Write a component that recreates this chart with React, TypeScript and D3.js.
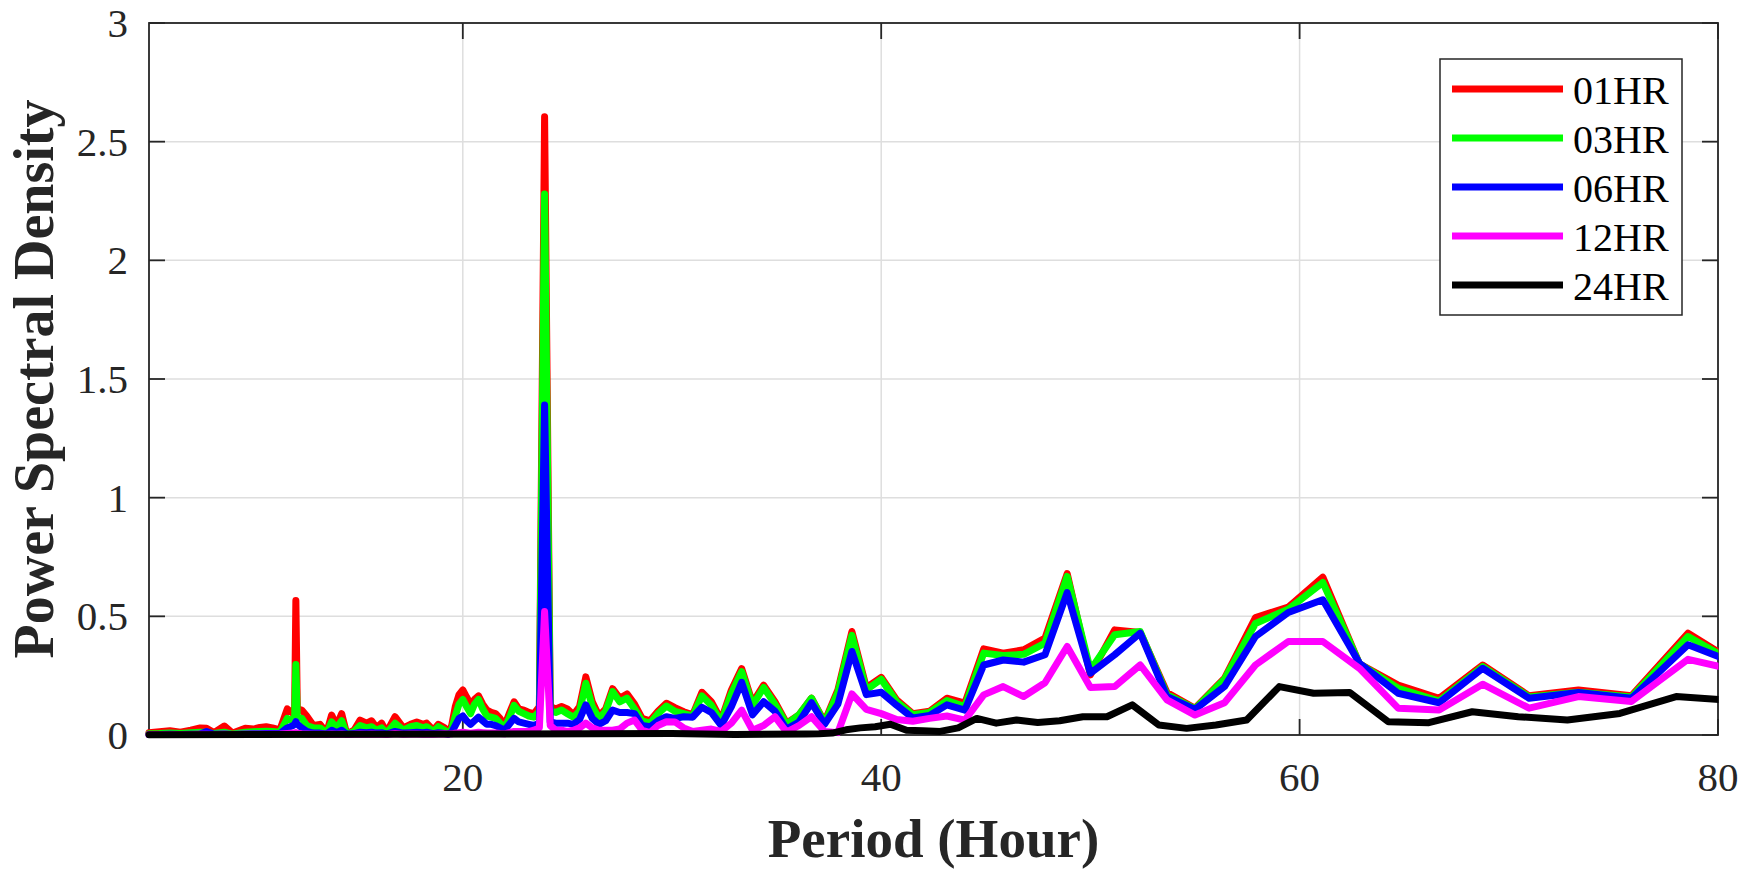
import React from 'react';
import * as d3 from 'd3';

// Period (hour) grid shared by the 01HR, 03HR, 06HR and 12HR spectra
const periods = [
  5.0, 5.5, 6.0, 6.5, 7.0, 7.45, 7.75, 8.1, 8.6, 9.0,
  9.6, 10.0, 10.3, 10.6, 10.9, 11.26, 11.61, 11.89, 11.96, 12.02,
  12.09, 12.3, 12.54, 12.86, 13.17, 13.49, 13.73, 13.97, 14.21, 14.45,
  14.8, 15.09, 15.4, 15.64, 15.88, 16.12, 16.36, 16.76, 17.16, 17.5,
  17.8, 18.1, 18.27, 18.59, 18.83,
  19.13, 19.30, 19.47, 19.64, 19.82, 20.00, 20.18, 20.37, 20.56, 20.75,
  20.95, 21.15, 21.36, 21.57, 21.78, 22.00, 22.22, 22.45, 22.68, 22.92,
  23.16, 23.40, 23.66, 23.91, 24.18, 24.44, 24.72, 25.00, 25.29, 25.58,
  25.88, 26.19, 26.51, 26.83, 27.16, 27.50, 27.85, 28.21, 28.57, 28.95,
  29.33, 29.73, 30.14, 30.56, 30.99, 31.43, 31.88, 32.35, 32.84, 33.33,
  33.85, 34.38, 34.92, 35.48, 36.07, 36.67, 37.29, 37.93, 38.60, 39.29,
  40.00, 40.74, 41.51, 42.31, 43.14, 44.00, 44.90, 45.83, 46.81, 47.83,
  48.89, 50.00, 51.16, 52.38, 53.66, 55.00, 56.41, 57.89, 59.46, 61.11,
  62.86, 64.71, 66.67, 68.75, 70.97, 73.33, 75.86, 78.57, 81.48,
];

const psd01 = [
  .010, .014, .018, .012, .020, .030, .028, .010, .038, .008,
  .028, .025, .032, .035, .030, .022, .110, .090, .100, .567,
  .110, .105, .080, .040, .045, .010, .084, .040, .090, .005,
  .020, .063, .050, .060, .030, .050, .012, .077, .030, .045,
  .055, .045, .050, .020, .045,
  .030, .008, .040, .120, .170, .190, .160, .130, .150, .165,
  .130, .105, .095, .090, .070, .040, .090, .140, .110, .105,
  .095, .090, .120, 2.605, .120, .110, .120, .110, .085, .120,
  .245, .140, .080, .110, .195, .155, .173, .130, .070, .060,
  .100, .134, .115, .098, .085, .180, .140, .063, .190, .280,
  .135, .210, .140, .050, .085, .155, .055, .190, .436, .200,
  .243, .148, .090, .100, .155, .134, .363, .345, .359, .408,
  .680, .253, .443, .432, .179, .113, .239, .495, .539, .665,
  .300, .210, .155, .295, .165, .190, .165, .429, .270,
];

const psd03 = [
  .005, .006, .008, .006, .010, .012, .012, .006, .012, .004,
  .012, .014, .015, .016, .015, .012, .070, .060, .070, .297,
  .075, .070, .040, .030, .030, .008, .055, .030, .060, .004,
  .015, .040, .030, .035, .020, .030, .008, .050, .020, .035,
  .040, .030, .035, .015, .035,
  .020, .005, .025, .080, .130, .150, .120, .090, .130, .150,
  .110, .080, .075, .070, .050, .030, .070, .125, .100, .090,
  .080, .075, .100, 2.280, .100, .095, .105, .090, .075, .100,
  .218, .120, .070, .100, .183, .140, .155, .110, .060, .050,
  .090, .122, .100, .090, .080, .165, .125, .055, .175, .267,
  .125, .200, .130, .045, .085, .155, .050, .180, .420, .190,
  .235, .140, .085, .095, .145, .120, .345, .335, .340, .387,
  .668, .274, .422, .436, .170, .110, .235, .470, .530, .643,
  .300, .197, .143, .288, .160, .180, .160, .415, .270,
];

const psd06 = [
  .002, .002, .003, .002, .003, .004, .015, .003, .004, .002,
  .004, .005, .005, .006, .006, .006, .030, .040, .045, .056,
  .045, .030, .015, .008, .008, .004, .020, .010, .020, .003,
  .006, .012, .010, .012, .008, .010, .004, .015, .008, .010,
  .012, .010, .012, .006, .010,
  .006, .003, .012, .040, .070, .080, .060, .045, .060, .075,
  .060, .045, .045, .040, .030, .020, .045, .070, .055, .050,
  .045, .040, .050, 1.390, .055, .050, .050, .050, .045, .065,
  .127, .070, .045, .060, .105, .095, .095, .090, .040, .035,
  .060, .077, .070, .077, .075, .117, .095, .040, .120, .222,
  .085, .140, .100, .025, .055, .136, .045, .130, .352, .170,
  .180, .125, .072, .082, .127, .105, .295, .316, .307, .338,
  .600, .260, .338, .429, .162, .108, .204, .415, .516, .570,
  .302, .176, .136, .281, .155, .179, .155, .380, .280,
];

const psd12 = [
  .002, .002, .002, .002, .002, .003, .003, .002, .003, .002,
  .003, .003, .003, .003, .003, .004, .006, .008, .008, .010,
  .008, .005, .004, .003, .003, .003, .004, .003, .004, .002,
  .003, .004, .003, .004, .003, .003, .002, .006, .003, .004,
  .004, .003, .004, .003, .004,
  .005, .004, .005, .008, .010, .012, .010, .008, .010, .012,
  .010, .008, .008, .008, .006, .005, .010, .015, .015, .015,
  .015, .020, .030, .520, .040, .020, .020, .015, .020, .030,
  .050, .030, .020, .020, .020, .025, .050, .063, .020, .010,
  .040, .056, .055, .030, .015, .020, .025, .015, .050, .105,
  .020, .040, .077, .012, .040, .077, .015, .010, .173, .108,
  .090, .065, .058, .070, .080, .063, .169, .204, .162, .220,
  .373, .200, .204, .295, .148, .084, .136, .295, .394, .394,
  .281, .113, .105, .214, .113, .162, .141, .319, .260,
];

// 24HR spectrum has its own period grid
const periods24 = [
  5.0, 30.0, 33.0, 36.40, 37.02, 37.66, 38.32, 39.00, 39.71, 40.44,
  41.21, 42.00, 42.82, 43.68, 44.57, 45.50, 46.47, 47.48, 48.53, 49.64,
  50.79, 52.00, 53.27, 54.60, 56.00, 57.47, 59.03, 60.67, 62.40, 64.24,
  66.18, 68.25, 70.45, 72.80, 75.31, 78.00, 80.89,
];
const psd24 = [
  .001, .006, .002, .004, .005, .008, .022, .030, .035, .045,
  .020, .018, .015, .030, .070, .050, .063, .053, .060, .077,
  .077, .127, .042, .028, .042, .063, .204, .176, .179, .056,
  .052, .098, .077, .063, .091, .162, .144,
];

const seriesNames = ['01HR', '03HR', '06HR', '12HR', '24HR'];
const seriesColors = ['#ff0000', '#00ff00', '#0000ff', '#ff00ff', '#000000'];
const xTicks = [20, 40, 60, 80];
const yTicks = [0, 0.5, 1, 1.5, 2, 2.5, 3];
const xLabel = 'Period (Hour)';
const yLabel = 'Power Spectral Density';

const FONT = '"Liberation Serif", "Times New Roman", serif';
const AXC = '#262626';

export default function App() {
  const W = 1757, H = 872;
  const L = 149, R = 1718, T = 23, B = 735;
  const x = d3.scaleLinear().domain([5, 80]).range([L, R]);
  const y = d3.scaleLinear().domain([0, 3]).range([B, T]);
  const line = d3.line<[number, number]>().x(d => x(d[0])).y(d => y(d[1]));

  const series = [
    { xs: periods, ys: psd01 },
    { xs: periods, ys: psd03 },
    { xs: periods, ys: psd06 },
    { xs: periods, ys: psd12 },
    { xs: periods24, ys: psd24 },
  ];
  const tl = 16;

  const legX = 1440, legY = 59, legW = 242, legH = 256, rowH = 49, row0 = 89;

  return (
    <svg width={W} height={H} style={{ position: 'absolute', left: 0, top: 0, background: '#fff' }}
      fontFamily={FONT}>
      <defs>
        <clipPath id="plotclip">
          <rect x={0} y={0} width={R + 0.5} height={H} />
        </clipPath>
      </defs>
      <rect x={0} y={0} width={W} height={H} fill="#fff" />
      {/* grid */}
      {xTicks.map(t => (
        <line key={'gx' + t} x1={x(t)} x2={x(t)} y1={T} y2={B} stroke="#dedede" strokeWidth={1.5} />
      ))}
      {yTicks.map(t => (
        <line key={'gy' + t} x1={L} x2={R} y1={y(t)} y2={y(t)} stroke="#dedede" strokeWidth={1.5} />
      ))}
      {/* box */}
      <rect x={L} y={T} width={R - L} height={B - T} fill="none" stroke={AXC} strokeWidth={1.8} />
      {xTicks.map(t => (
        <g key={'tx' + t}>
          <line x1={x(t)} x2={x(t)} y1={B} y2={B - tl} stroke={AXC} strokeWidth={1.8} />
          <line x1={x(t)} x2={x(t)} y1={T} y2={T + tl} stroke={AXC} strokeWidth={1.8} />
          <text x={x(t)} y={791} textAnchor="middle" fontSize={41} fill={AXC}>{t}</text>
        </g>
      ))}
      {yTicks.map(t => (
        <g key={'ty' + t}>
          <line x1={L} x2={L + tl} y1={y(t)} y2={y(t)} stroke={AXC} strokeWidth={1.8} />
          <line x1={R} x2={R - tl} y1={y(t)} y2={y(t)} stroke={AXC} strokeWidth={1.8} />
          <text x={128} y={y(t) + 14} textAnchor="end" fontSize={41} fill={AXC}>{String(t)}</text>
        </g>
      ))}
      {/* data */}
      <g clipPath="url(#plotclip)">
        {series.map((s, i) => (
          <path key={'s' + i}
            d={line(s.xs.map((p, j) => [p, s.ys[j]] as [number, number])) || ''}
            fill="none" stroke={seriesColors[i]} strokeWidth={7}
            strokeLinejoin="round" strokeLinecap="round" />
        ))}
      </g>
      {/* axis labels */}
      <text x={(L + R) / 2} y={857} textAnchor="middle" fontSize={55} fontWeight="bold" fill={AXC}>{xLabel}</text>
      <text transform={`translate(53, ${(T + B) / 2}) rotate(-90)`} textAnchor="middle" fontSize={56}
        fontWeight="bold" fill={AXC}>{yLabel}</text>
      {/* legend */}
      <rect x={legX} y={legY} width={legW} height={legH} fill="#fff" stroke={AXC} strokeWidth={1.5} />
      {seriesNames.map((n, i) => (
        <g key={'lg' + i}>
          <line x1={1452} x2={1563} y1={row0 + i * rowH} y2={row0 + i * rowH}
            stroke={seriesColors[i]} strokeWidth={7} />
          <text x={1573} y={row0 + i * rowH + 15} fontSize={40} fill="#000">{n}</text>
        </g>
      ))}
    </svg>
  );
}
